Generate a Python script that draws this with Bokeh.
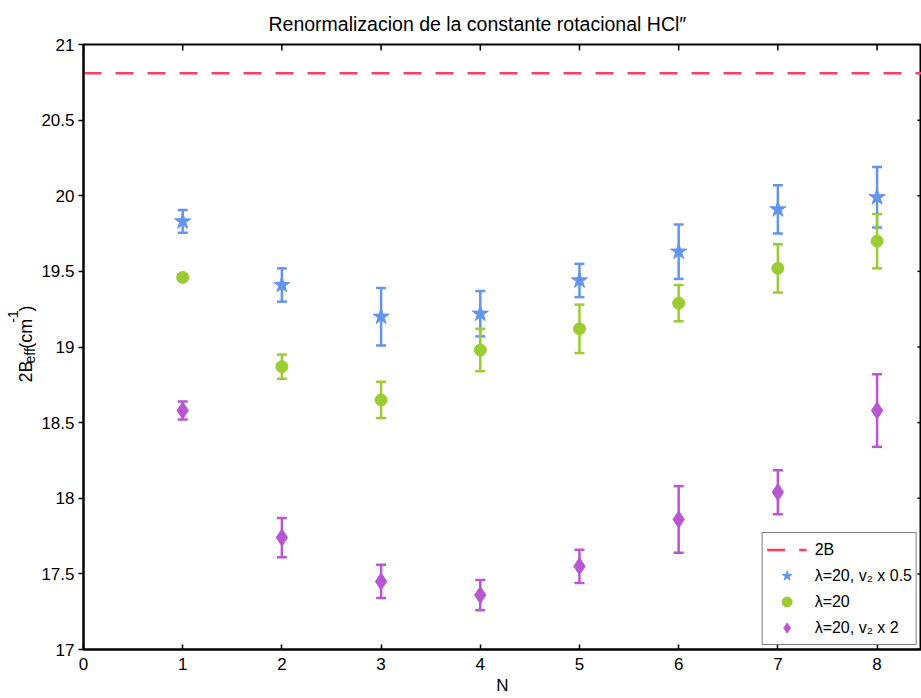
import math
from bokeh.plotting import figure
from bokeh.layouts import row
from bokeh.models import (ColumnDataSource, Whisker, TeeHead, FixedTicker,
                          Legend, LegendItem, Range1d, Title)
from bokeh.core.properties import value
from bokeh.embed import file_html
from bokeh.resources import INLINE

# ---------------- data ----------------
N = [1, 2, 3, 4, 5, 6, 7, 8]
two_B = 20.81

half_vals = [19.83, 19.41, 19.20, 19.22, 19.44, 19.63, 19.91, 19.99]
half_err = [0.075, 0.11, 0.19, 0.15, 0.11, 0.18, 0.16, 0.20]

base_vals = [19.46, 18.87, 18.65, 18.98, 19.12, 19.29, 19.52, 19.70]
base_err = [0.02, 0.08, 0.12, 0.14, 0.16, 0.12, 0.16, 0.18]

double_vals = [18.58, 17.74, 17.45, 17.36, 17.55, 17.86, 18.04, 18.58]
double_err = [0.06, 0.13, 0.11, 0.10, 0.11, 0.22, 0.145, 0.24]

series_labels = ["2B", "λ=20, v₂ x 0.5", "λ=20", "λ=20, v₂ x 2"]

xticks = [0, 1, 2, 3, 4, 5, 6, 7, 8]
xtick_labels = ["0", "1", "2", "3", "4", "5", "6", "7", "8"]
yticks = [17, 17.5, 18, 18.5, 19, 19.5, 20, 20.5, 21]
ytick_labels = ["17", "17.5", "18", "18.5", "19", "19.5", "20", "20.5", "21"]

title_text = "Renormalizacion de la constante rotacional HCl″"
xlabel = "N"
# y label pieces: text, role (main / sub / sup)
ylabel_parts = [("2B", "main"), ("eff", "sub"), ("(cm", "main"), ("-1", "sup"), (")", "main")]

# ---------------- style ----------------
FONT = "Liberation Sans"
RED = "#FF3D63"
BLUE = "#6495ED"
GREEN = "#9ACD32"
PURPLE = "#BA55D3"
W, H = 921, 698
LEFT_W = 38

# ---------------- left strip holding the rotated y-axis title ----------------
lab = figure(width=LEFT_W, height=H, output_backend="svg", toolbar_location=None,
             x_range=Range1d(0, LEFT_W), y_range=Range1d(0, H),
             x_axis_type=None, y_axis_type=None, min_border=0,
             background_fill_color="white", border_fill_color="white")
lab.grid.visible = False
lab.outline_line_color = None

# layout of pieces (pixel positions inside the strip; y measured from bottom)
piece_pos = {"main": (25, "18px"), "sub": (29, "14px"), "sup": (12, "14px")}
piece_start = [308, 330, 347, 377, 390]
for (txt, role), y0 in zip(ylabel_parts, piece_start):
    px, fs = piece_pos[role]
    lab.text(x=[px], y=[y0], text=[txt], angle=math.pi / 2,
             text_align="left", text_baseline="alphabetic",
             text_font=value(FONT), text_font_size=fs, text_color="black")

# ---------------- main plot ----------------
p = figure(width=W - LEFT_W, height=H, output_backend="svg", toolbar_location=None,
           x_range=Range1d(0, 8.448), y_range=Range1d(17, 21),
           min_border_left=83 - LEFT_W, min_border_right=0, min_border_top=44,
           min_border_bottom=49,
           background_fill_color="white", border_fill_color="white")
p.grid.visible = False
p.outline_line_color = "black"
p.outline_line_width = 2

p.title = Title(text=title_text, align="left", offset=185, standoff=20, text_font=FONT,
                text_font_size="19.5px", text_font_style="normal", text_color="black")

xa = p.xaxis[0]
xa.ticker = FixedTicker(ticks=xticks)
xa.major_label_overrides = dict(zip(xticks, xtick_labels))
xa.axis_label = xlabel
xa.axis_label_text_font = FONT
xa.axis_label_text_font_size = "17px"
xa.axis_label_text_font_style = "normal"
xa.axis_label_text_color = "black"
xa.axis_label_standoff = 3
xa.major_label_standoff = 8
xa.major_label_text_font = FONT
xa.major_label_text_font_size = "17px"
xa.major_label_text_color = "black"
xa.major_tick_in = 5
xa.major_tick_out = 0
xa.minor_tick_line_color = None
xa.axis_line_width = 2
xa.major_tick_line_width = 1.5

ya = p.yaxis[0]
ya.ticker = FixedTicker(ticks=yticks)
ya.major_label_overrides = dict(zip(yticks, ytick_labels))
ya.major_label_text_font = FONT
ya.major_label_text_font_size = "17px"
ya.major_label_text_color = "black"
ya.major_label_standoff = 4
ya.major_tick_in = 0
ya.major_tick_out = 5
ya.minor_tick_line_color = None
ya.axis_line_width = 2
ya.major_tick_line_width = 1.5

# mirrored inward ticks on the top and right frame edges (half of each dash is clipped)
p.scatter(x=xticks, y=[p.y_range.end] * len(xticks), marker="dash", angle=math.pi / 2,
          size=12, line_color="black", line_width=1.5)
p.scatter(x=[p.x_range.end] * len(yticks), y=yticks, marker="dash",
          size=8, line_color="black", line_width=1.5)

# reference line 2B
r_2b = p.ray(x=[0], y=[two_B], length=0, angle=0, line_color=RED, line_width=2.5,
             line_dash="18 14")


def add_series(vals, errs, color, marker, size):
    lo = [v - e for v, e in zip(vals, errs)]
    hi = [v + e for v, e in zip(vals, errs)]
    src = ColumnDataSource(dict(x=N, y=vals, lo=lo, hi=hi))
    w = Whisker(base="x", lower="lo", upper="hi", source=src, dimension="height",
                line_color=color, line_width=2.5,
                upper_head=TeeHead(size=10, line_color=color, line_width=2.5),
                lower_head=TeeHead(size=10, line_color=color, line_width=2.5))
    p.add_layout(w)
    return p.scatter(x="x", y="y", source=src, marker=marker, size=size,
                     fill_color=color, line_color=color, line_width=1)


r_half = add_series(half_vals, half_err, BLUE, "star", 17)
r_base = add_series(base_vals, base_err, GREEN, "circle", 12)
r_double = add_series(double_vals, double_err, PURPLE, "diamond", 17)

legend = Legend(items=[LegendItem(label=series_labels[0], renderers=[r_2b]),
                       LegendItem(label=series_labels[1], renderers=[r_half]),
                       LegendItem(label=series_labels[2], renderers=[r_base]),
                       LegendItem(label=series_labels[3], renderers=[r_double])],
                location="bottom_right", margin=4, padding=4, spacing=1,
                glyph_width=40, glyph_height=25, label_height=25, label_standoff=8,
                label_text_font=FONT, label_text_font_size="16px", label_text_color="black",
                border_line_color="black", border_line_width=1.5,
                background_fill_color="white", background_fill_alpha=1)
p.add_layout(legend, "center")

layout = row(lab, p)
open("out.html", "w").write(file_html(layout, INLINE))
